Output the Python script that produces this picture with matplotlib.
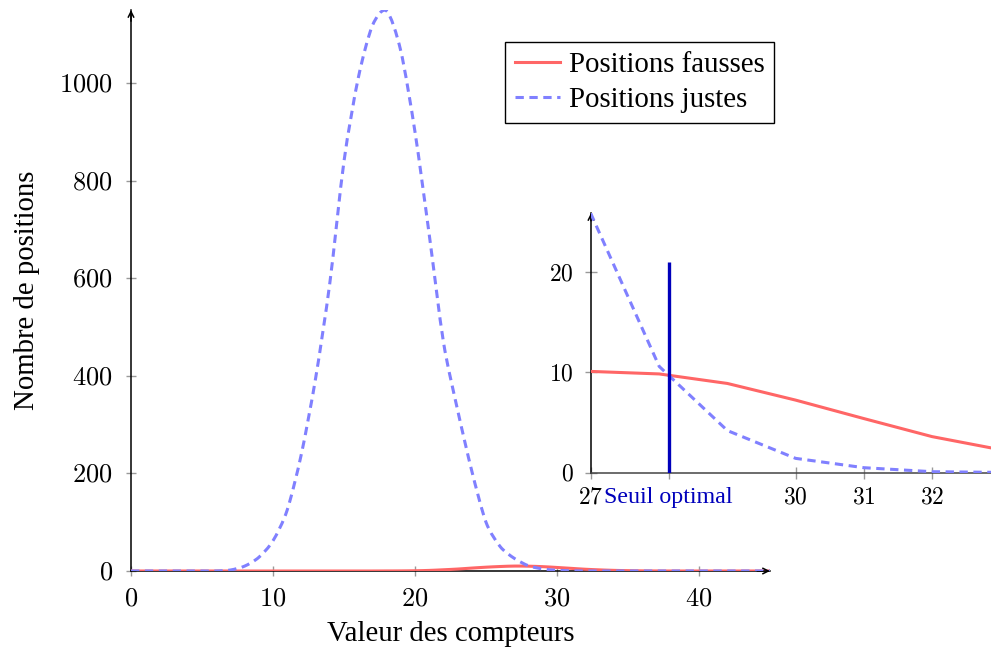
import matplotlib
matplotlib.use("Agg")
import matplotlib.pyplot as plt
import numpy as np
from matplotlib.ticker import FuncFormatter
from matplotlib.path import Path
from matplotlib.patches import PathPatch
from matplotlib.lines import Line2D

plt.rcParams['font.family'] = ['Liberation Serif', 'DejaVu Serif']
plt.rcParams['mathtext.fontset'] = 'cm'
plt.rcParams['lines.scale_dashes'] = False

# ---- data ----
compteurs = list(range(0, 46))
positions_fausses = [0, 0, 0, 0, 0, 0, 0, 0, 0, 0,
                     0, 0, 0, 0, 0, 0, 0, 0, 0.1, 0.2,
                     0.5, 1.2, 2.5, 4.0, 6.0, 7.8, 9.2, 10.1, 9.85, 8.9,
                     7.24, 5.4, 3.6, 2.3, 1.3, 0.7, 0.3, 0.1, 0, 0,
                     0, 0, 0, 0, 0, 0]
positions_justes = [0, 0, 0, 0, 0, 0, 0, 2, 10, 28,
                    62, 125, 240, 395, 590, 840, 1010, 1118, 1148, 1066,
                    900, 690, 470, 330, 205, 100, 50, 25.8, 10.6, 4.2,
                    1.43, 0.5, 0.1, 0.03, 0, 0, 0, 0, 0, 0,
                    0, 0, 0, 0, 0, 0]
seuil = 28.14
main_xticks = [0, 10, 20, 30, 40]
main_yticks = [0, 200, 400, 600, 800, 1000]
inset_xticks = [27, seuil, 30, 31, 32]
inset_xticklabels = ['$27$', 'Seuil optimal', '$30$', '$31$', '$32$']
inset_yticks = [0, 10, 20]

red = '#ff6666'
blue = '#8080ff'
dark_blue = '#0000bb'
LW = 2.2
DASH = (0, (6.0, 4.0))


def smooth_path(x, y, k=0.14):
    """Smooth curve through the data points (like TikZ 'smooth')."""
    P = np.column_stack([x, y]).astype(float)
    n = len(P)
    verts = [P[0]]
    codes = [Path.MOVETO]
    for i in range(n - 1):
        pm = P[i - 1] if i > 0 else P[i]
        p2 = P[i + 2] if i + 2 < n else P[i + 1]
        c1 = P[i] + k * (P[i + 1] - pm)
        c2 = P[i + 1] - k * (p2 - P[i])
        verts += [c1, c2, P[i + 1]]
        codes += [Path.CURVE4] * 3
    return Path(verts, codes)


def draw(axis, x, y, **kw):
    axis.add_patch(PathPatch(smooth_path(x, y), fill=False, capstyle='butt',
                             joinstyle='round', **kw))


W, H = 991, 648
fig = plt.figure(figsize=(W / 100, H / 100), dpi=100)


def box(l, r, t, b):
    return [l / W, 1 - b / H, (r - l) / W, (b - t) / H]


# ---- main axes ----
ax = fig.add_axes(box(131, 770, 10, 571))
draw(ax, compteurs, positions_fausses, edgecolor=red, lw=LW, zorder=3)
draw(ax, compteurs, positions_justes, edgecolor=blue, lw=LW, linestyle=DASH, zorder=4)
ax.set_xlim(0, 45)
ax.set_ylim(0, 1150)
ax.set_xticks(main_xticks)
ax.set_yticks(main_yticks)
mfmt = FuncFormatter(lambda v, p: r'$%d$' % v)
ax.xaxis.set_major_formatter(mfmt)
ax.yaxis.set_major_formatter(mfmt)
ax.tick_params(direction='inout', length=7, width=1, color='#999999', labelsize=19)
ax.tick_params(axis='x', pad=9)
ax.tick_params(axis='y', pad=9.5)
for s in ['top', 'right']:
    ax.spines[s].set_visible(False)
for s in ['left', 'bottom']:
    ax.spines[s].set_linewidth(1.1)
    ax.spines[s].set_zorder(2)
ax.annotate('', xy=(1.0, 0), xytext=(0.98, 0), xycoords='axes fraction',
            arrowprops=dict(arrowstyle='->', lw=1.1, color='black', shrinkA=0, shrinkB=0))
ax.annotate('', xy=(0, 1.0), xytext=(0, 0.98), xycoords='axes fraction',
            arrowprops=dict(arrowstyle='->', lw=1.1, color='black', shrinkA=0, shrinkB=0))
ax.set_xlabel('Valeur des compteurs', fontsize=20.7, labelpad=8)
ax.set_ylabel('Nombre de positions', fontsize=20.7, labelpad=14)
ax.patch.set_alpha(0)

handles = [Line2D([], [], color=red, lw=LW),
           Line2D([], [], color=blue, lw=LW, linestyle=DASH)]
leg = fig.legend(handles, ['Positions fausses', 'Positions justes'],
                 loc='upper left', bbox_to_anchor=(505 / W, 1 - 42 / H), fontsize=20.8,
                 frameon=True, fancybox=False, edgecolor='black', framealpha=1,
                 handlelength=1.55, handletextpad=0.3, borderpad=0.35, labelspacing=0.3,
                 borderaxespad=0)
leg.get_frame().set_linewidth(1.0)

# ---- inset (straight segments, as in the reference) ----
ai = fig.add_axes(box(591, 991, 213, 472.7))
ai.plot(compteurs, positions_fausses, color=red, lw=LW, zorder=3)
ai.plot(compteurs, positions_justes, color=blue, lw=LW, linestyle=DASH, zorder=4)
ai.vlines(seuil, 0, 21, color=dark_blue, lw=2.4, zorder=5)
ai.set_xlim(27, 32.865)
ai.set_ylim(0, 25.9)
ai.set_xticks(inset_xticks)
ai.set_xticklabels(inset_xticklabels)
ai.set_yticks(inset_yticks)
ai.yaxis.set_major_formatter(mfmt)
ai.tick_params(direction='inout', length=9, width=1, color='#999999', labelsize=17)
ai.tick_params(axis='x', pad=6)
ai.tick_params(axis='y', pad=8)
lbls = ai.get_xticklabels()
lbls[1].set_color(dark_blue)
lbls[1].set_fontsize(17.3)
for s in ['top', 'right']:
    ai.spines[s].set_visible(False)
ai.spines['bottom'].set_color('#444444')
ai.spines['bottom'].set_linewidth(1.1)
ai.spines['left'].set_linewidth(1.1)
ai.annotate('', xy=(0, 1.0), xytext=(0, 0.97), xycoords='axes fraction',
            arrowprops=dict(arrowstyle='->', lw=1.1, color='black', shrinkA=0, shrinkB=0))
ai.patch.set_alpha(0)

fig.savefig('out.png', dpi=100)
